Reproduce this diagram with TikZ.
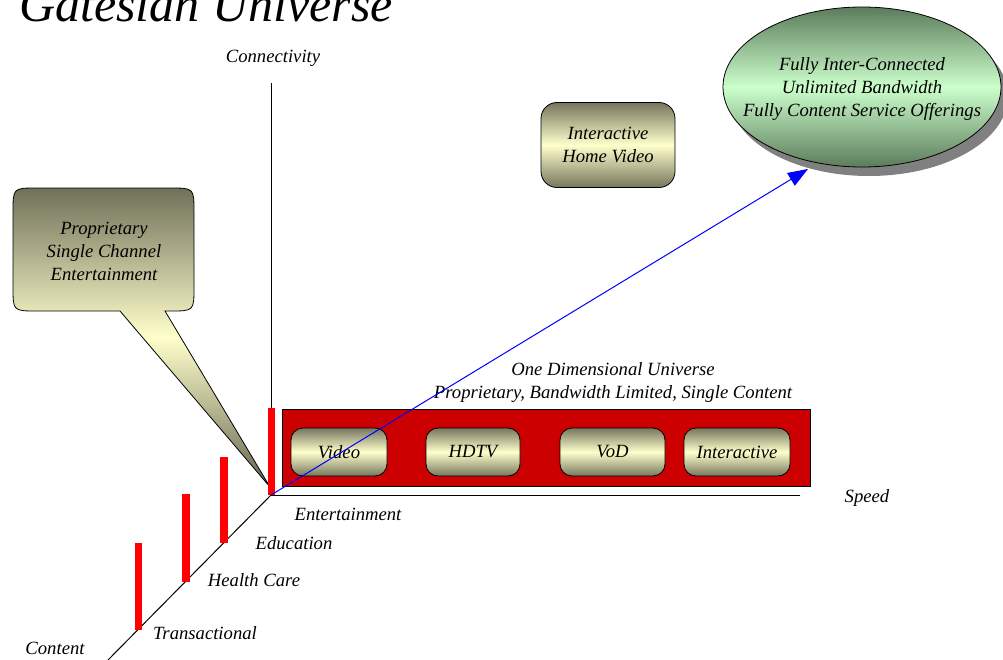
\documentclass[tikz,border=0pt]{standalone}
\usepackage{fontspec}
\setmainfont{Liberation Serif}
\usetikzlibrary{arrows.meta,shapes.geometric}

\definecolor{olivedk}{RGB}{118,118,94}
\definecolor{cream}{RGB}{255,255,204}
\definecolor{greendk}{RGB}{92,124,92}
\definecolor{greenlt}{RGB}{204,255,204}
\definecolor{stripred}{RGB}{204,0,0}

\begin{document}
\begin{tikzpicture}[x=0.75pt,y=-0.75pt,
  lbl/.style={font=\fontsize{14}{17.25}\selectfont\itshape, inner sep=0pt, align=center},
  axis/.style={draw=black, line width=0.75pt},
  olivebox/.style={draw=black, line width=0.6pt, rounded corners=9pt,
    top color=olivedk, bottom color=olivedk, middle color=cream,
    inner sep=0pt, font=\fontsize{14}{17.25}\selectfont\itshape, align=center},
  redbar/.style={fill=red, draw=none},
  vector/.style={draw=blue, line width=0.75pt, -{Triangle[length=15pt,width=11pt]}}
]
\useasboundingbox (0,0) rectangle (1003,660);

% title
\node[anchor=base, inner sep=0pt, font=\fontsize{37.5}{40}\selectfont\itshape] (title) at (206,22) {Gatesian Universe};

% axes
\coordinate (origin) at (271,495);
\coordinate (conntop) at (271,83);
\coordinate (speedend) at (800,495);
\coordinate (contentend) at (108,660);
\draw[axis] (origin) -- (conntop);
\draw[axis] (origin) -- (speedend);
\draw[axis] (origin) -- (contentend);

\node[lbl] (connlbl) at (273,58) {Connectivity};
\node[lbl] (speedlbl) at (867,498) {Speed};
\node[lbl] (contentlbl) at (55,648) {Content};
\node[lbl] (entlbl) at (348,514) {Entertainment};
\node[lbl] (edulbl) at (294,543) {Education};
\node[lbl] (healthlbl) at (254,580) {Health Care};
\node[lbl] (translbl) at (205,633) {Transactional};

% speech callout pointing at the origin
\coordinate (callouttip) at (270,487);
\draw[line width=0.6pt, top color=olivedk!95!black, bottom color=olivedk!85!black, middle color=cream]
  (120,311) -- (37,311) .. controls (13,311) .. (13,287) -- (13,212)
  .. controls (13,188) .. (37,188) -- (170,188) .. controls (194,188) .. (194,212)
  -- (194,287) .. controls (194,311) .. (170,311) -- (165,311) -- (callouttip) -- cycle;
\node[lbl] (calloutlbl) at (104,251) {Proprietary\\Single Channel\\Entertainment};

% content bars
\fill[redbar] (268,408) rectangle (275,495);
\fill[redbar] (220,457) rectangle (228,543);
\fill[redbar] (182,494) rectangle (190,582);
\fill[redbar] (135,543) rectangle (142,630);

% one dimensional strip
\node[lbl] (onedim) at (613,383) {One Dimensional Universe\\Proprietary, Bandwidth Limited, Single Content};
\node[draw=black, line width=0.6pt, fill=stripred, minimum width={528*0.75pt}, minimum height={77*0.75pt}, inner sep=0pt] (strip) at (546,447.5) {};
\node[olivebox, minimum width={96*0.75pt}, minimum height={48*0.75pt}] (video) at (339,452) {Video};
\node[olivebox, minimum width={94*0.75pt}, minimum height={48*0.75pt}] (hdtv) at (473,452) {HDTV};
\node[olivebox, minimum width={105*0.75pt}, minimum height={48*0.75pt}] (vod) at (612.5,452) {VoD};
\node[olivebox, minimum width={106*0.75pt}, minimum height={48*0.75pt}] (interactive) at (737,452) {Interactive};

% interactive home video
\node[olivebox, rounded corners=12pt, minimum width={134*0.75pt}, minimum height={85*0.75pt}] (homevideo) at (608,145) {Interactive\\Home Video};

% goal ellipse with its shadow
\fill[black!50] (869,96) ellipse [x radius=139, y radius=80];
\draw[line width=0.6pt, top color=greendk, bottom color=greendk, middle color=greenlt]
  (862,87) ellipse [x radius=139, y radius=80];
\node[lbl] (goal) at (862,89)
  {Fully Inter-Connected\\Unlimited Bandwidth\\Fully Content Service Offerings};

% growth vector
\coordinate (vectorend) at (808,169);
\draw[vector] (origin) -- (vectorend);
\end{tikzpicture}
\end{document}
